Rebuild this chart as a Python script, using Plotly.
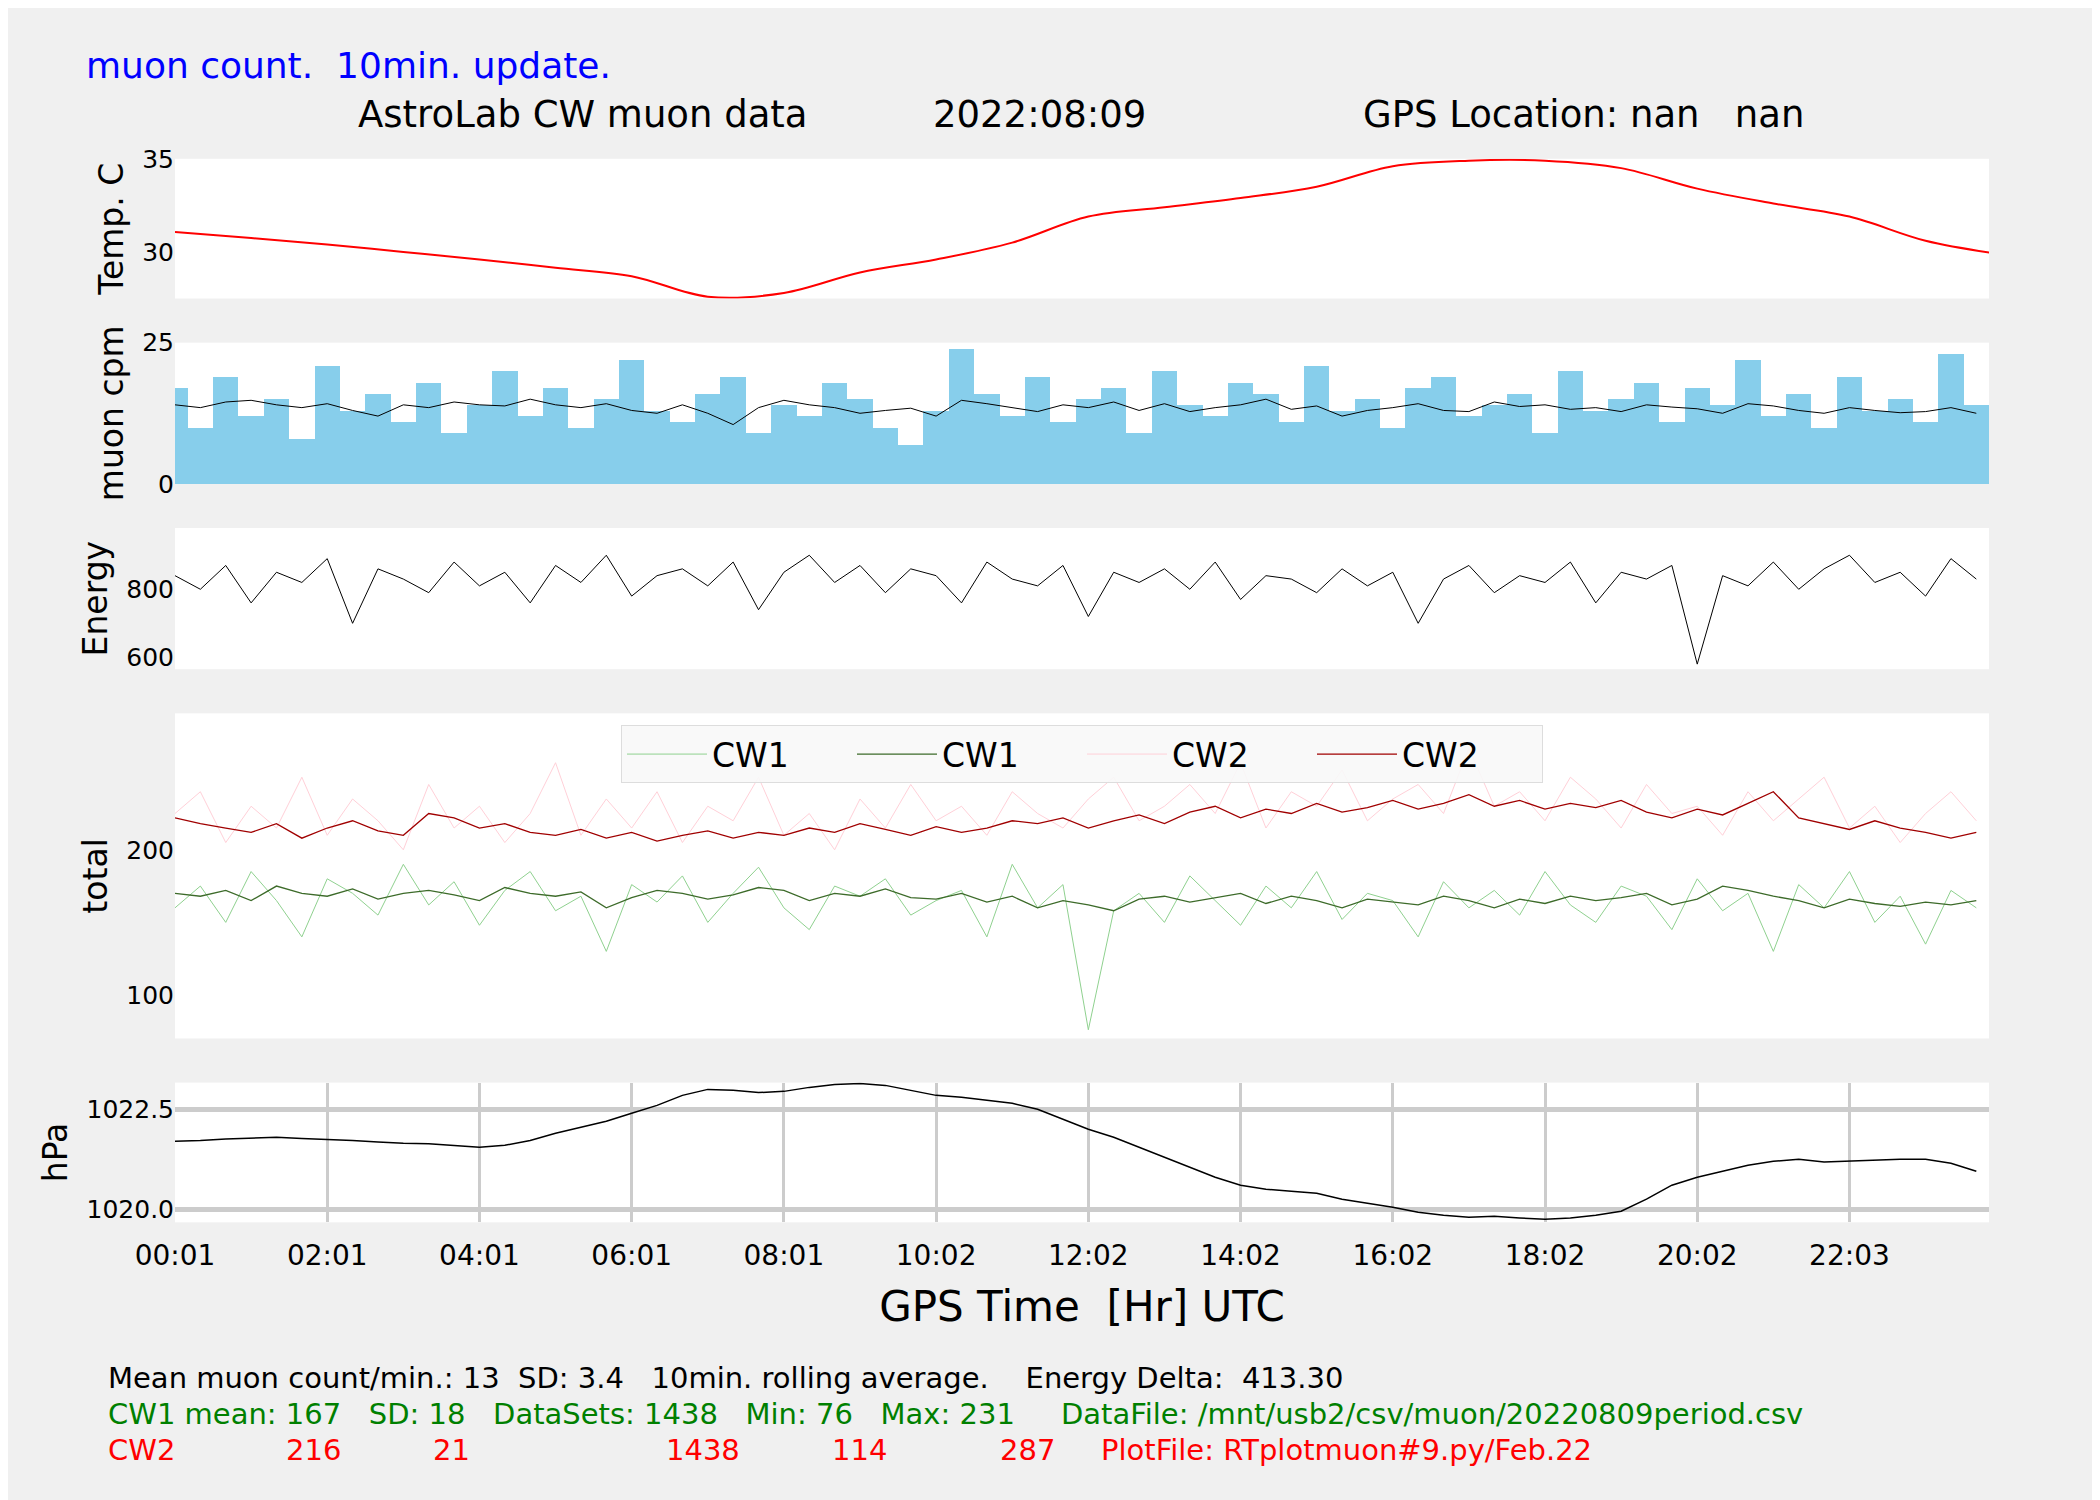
import plotly.graph_objects as go
from plotly.subplots import make_subplots

# minutes after 00:01, one sample every 20 min
t = list(range(0, 1440, 20))
temp_t = [h * 60 for h in range(24)] + [1437]

temp = [31.07, 30.75, 30.4, 30.0, 29.6, 29.15, 28.7, 27.6, 27.8, 28.9, 29.6, 30.5,
        31.9, 32.4, 32.9, 33.5, 34.6, 34.9, 34.9, 34.5, 33.4, 32.6, 31.9, 30.6, 29.9]

muon_raw = [17, 10, 19, 12, 15, 8, 21, 13, 16, 11, 18, 9, 14, 20, 12, 17, 10, 15, 22, 13,
            11, 16, 19, 9, 14, 12, 18, 15, 10, 7, 13, 24, 16, 12, 19, 11, 15, 17, 9, 20,
            14, 12, 18, 16, 11, 21, 13, 15, 10, 17, 19, 12, 14, 16, 9, 20, 13, 15, 18, 11,
            17, 14, 22, 12, 16, 10, 19, 13, 15, 11, 23, 14]
muon_avg = [14, 13.5, 14.5, 14.8, 14, 13.5, 14.2, 13, 12, 14, 13.5, 14.5, 14, 13.8, 15, 14, 13.5, 14.2, 13, 12.5,
            14, 12.5, 10.5, 13.5, 14.8, 14, 13.5, 12.5, 13, 13.4, 12, 14.8, 14.2, 13.5, 12.8, 14, 13.5, 14.5, 13, 14.2,
            12.8, 13.5, 14, 15, 13.2, 13.8, 12, 13, 13.5, 14.2, 13, 12.8, 14.5, 13.7, 14, 13.2, 13.5, 12.8, 14, 13.6,
            13.3, 12.5, 14.2, 13.8, 13, 12.5, 13.5, 13, 12.6, 12.8, 13.5, 12.5]

energy = [840, 800, 870, 760, 850, 820, 890, 700, 860, 830, 790, 880, 810, 850, 760, 870, 820, 900, 780, 840,
          860, 810, 880, 740, 850, 900, 820, 870, 790, 860, 840, 760, 880, 830, 810, 870, 720, 850, 820, 860,
          800, 880, 770, 840, 830, 790, 860, 810, 850, 700, 830, 870, 790, 840, 820, 880, 760, 850, 830, 870,
          580, 840, 810, 880, 800, 860, 900, 820, 850, 780, 890, 830]

cw1_raw = [160, 175, 150, 185, 165, 140, 180, 170, 155, 190, 162, 178, 148, 172, 185, 158, 168, 130, 176, 164,
           182, 150, 170, 188, 160, 145, 175, 168, 180, 155, 165, 172, 140, 190, 160, 176, 76, 158, 170, 150,
           182, 165, 148, 175, 160, 185, 152, 170, 165, 140, 178, 160, 172, 155, 185, 162, 150, 175, 168, 145,
           180, 158, 170, 130, 176, 160, 185, 150, 168, 135, 172, 160]
cw1_avg = [170, 168, 172, 165, 175, 170, 168, 173, 166, 170, 172, 169, 165, 174, 170, 168, 171, 160, 167, 172,
           170, 166, 169, 174, 172, 165, 170, 168, 173, 167, 166, 170, 164, 168, 160, 165, 162, 158, 166, 168,
           164, 167, 170, 163, 168, 165, 160, 166, 164, 162, 168, 165, 160, 166, 163, 168, 165, 167, 170, 162,
           166, 175, 172, 168, 165, 160, 166, 163, 161, 164, 162, 165]
cw2_raw = [225, 240, 205, 230, 215, 250, 210, 235, 220, 200, 245, 215, 230, 205, 225, 260, 210, 235, 215, 240,
           205, 230, 220, 250, 210, 225, 200, 235, 215, 245, 220, 230, 210, 240, 225, 215, 235, 250, 220, 230,
           245, 225, 260, 215, 240, 230, 255, 220, 235, 245, 225, 270, 230, 240, 220, 250, 235, 215, 245, 225,
           230, 210, 240, 220, 235, 250, 215, 230, 205, 225, 240, 220]
cw2_avg = [222, 218, 215, 212, 218, 208, 215, 220, 213, 210, 225, 222, 215, 218, 212, 210, 214, 208, 212, 206,
           210, 213, 208, 212, 210, 215, 212, 218, 214, 210, 216, 212, 215, 220, 218, 222, 215, 220, 224, 218,
           226, 230, 222, 228, 225, 232, 226, 229, 234, 228, 232, 238, 230, 234, 228, 232, 229, 234, 226, 222,
           228, 224, 232, 240, 222, 218, 214, 220, 215, 212, 208, 212]

pressure = [1021.70, 1021.72, 1021.76, 1021.78, 1021.80, 1021.77, 1021.75, 1021.72, 1021.68,
            1021.65, 1021.64, 1021.60, 1021.55, 1021.60, 1021.72, 1021.90, 1022.05, 1022.20,
            1022.40, 1022.60, 1022.85, 1023.00, 1022.98, 1022.92, 1022.95, 1023.05, 1023.12,
            1023.15, 1023.10, 1022.98, 1022.85, 1022.80, 1022.72, 1022.65, 1022.50, 1022.25,
            1022.00, 1021.80, 1021.55, 1021.30, 1021.05, 1020.80, 1020.60, 1020.50, 1020.45,
            1020.40, 1020.25, 1020.15, 1020.05, 1019.92, 1019.85, 1019.80, 1019.82, 1019.78,
            1019.75, 1019.78, 1019.85, 1019.95, 1020.25, 1020.60, 1020.80, 1020.95, 1021.10,
            1021.20, 1021.25, 1021.18, 1021.20, 1021.22, 1021.25, 1021.25, 1021.15, 1020.95]

tick_pos = [0, 120, 240, 360, 480, 600, 720, 840, 960, 1080, 1200, 1320]
tick_txt = ['00:01', '02:01', '04:01', '06:01', '08:01', '10:02', '12:02', '14:02',
            '16:02', '18:02', '20:02', '22:03']

FONT = 'DejaVu Sans'
fig = make_subplots(rows=5, cols=1, shared_xaxes=True)

fig.add_trace(go.Scatter(x=temp_t, y=temp, mode='lines', line=dict(color='red', width=2, shape='spline'),
                         showlegend=False), 1, 1)
fig.add_trace(go.Bar(x=t, y=muon_raw, marker_color='skyblue', marker_line_width=0, width=20,
                     showlegend=False), 2, 1)
fig.add_trace(go.Scatter(x=t, y=muon_avg, mode='lines', line=dict(color='black', width=1), showlegend=False), 2, 1)
fig.add_trace(go.Scatter(x=t, y=energy, mode='lines', line=dict(color='black', width=1), showlegend=False), 3, 1)
fig.add_trace(go.Scatter(x=t, y=cw1_raw, mode='lines', name='CW1', line=dict(color='#8fd18f', width=1)), 4, 1)
fig.add_trace(go.Scatter(x=t, y=cw1_avg, mode='lines', name='CW1', line=dict(color='#3d6b2a', width=1.3)), 4, 1)
fig.add_trace(go.Scatter(x=t, y=cw2_raw, mode='lines', name='CW2', line=dict(color='#ffd0d8', width=1)), 4, 1)
fig.add_trace(go.Scatter(x=t, y=cw2_avg, mode='lines', name='CW2', line=dict(color='#a00000', width=1.3)), 4, 1)
fig.add_trace(go.Scatter(x=t, y=pressure, mode='lines', line=dict(color='black', width=1.5), showlegend=False), 5, 1)

domains = [[0.812, 0.907], [0.686, 0.782], [0.560, 0.656], [0.309, 0.530], [0.184, 0.279]]
titles = ['Temp. C', 'muon cpm', 'Energy', 'total', 'hPa']
ranges = [[27.5, 35], [0, 25], [565, 980], [70, 294], [1019.67, 1023.17]]
ticks = [[30, 35], [0, 25], [600, 800], [100, 200], [1020.0, 1022.5]]
for i in range(5):
    fig.update_yaxes(row=i + 1, col=1, domain=domains[i], range=ranges[i], tickvals=ticks[i],
                     showgrid=(i == 4), gridcolor='#cccccc', gridwidth=5, zeroline=False,
                     title=dict(text=titles[i], font=dict(size=33, family=FONT), standoff=8),
                     tickfont=dict(size=25, family=FONT), ticks='')
fig.update_yaxes(row=5, col=1, tickformat='.1f')
for i in range(5):
    fig.update_xaxes(row=i + 1, col=1, range=[0, 1430], showgrid=(i == 4), gridcolor='#cccccc', gridwidth=2.5,
                     zeroline=False, tickvals=tick_pos, ticktext=tick_txt, showticklabels=(i == 4),
                     tickfont=dict(size=28, family=FONT), ticks='', ticklabelstandoff=14)
fig.update_xaxes(row=5, col=1, title=dict(text='GPS Time  [Hr] UTC', font=dict(size=42, family=FONT), standoff=20))

ann = [
    dict(x=84, y=44, text='muon count.  10min. update.', color='blue', size=36),
    dict(x=356, y=94, text='AstroLab CW muon data', color='black', size=37),
    dict(x=931, y=94, text='2022:08:09', color='black', size=37),
    dict(x=1361, y=94, text='GPS Location: nan   nan', color='black', size=37),
    dict(x=106, y=1383, text='Mean muon count/min.: 13  SD: 3.4   10min. rolling average.    Energy Delta:  413.30',
         color='black', size=29),
    dict(x=106, y=1419, text='CW1 mean: 167   SD: 18   DataSets: 1438   Min: 76   Max: 231     '
                             'DataFile: /mnt/usb2/csv/muon/20220809period.csv', color='green', size=29),
    dict(x=106, y=1456, text='CW2', color='red', size=29),
    dict(x=284, y=1456, text='216', color='red', size=29),
    dict(x=431, y=1456, text='21', color='red', size=29),
    dict(x=664, y=1456, text='1438', color='red', size=29),
    dict(x=830, y=1456, text='114', color='red', size=29),
    dict(x=998, y=1456, text='287', color='red', size=29),
    dict(x=1099, y=1456, text='PlotFile: RTplotmuon#9.py/Feb.22', color='red', size=29),
]
for a in ann:
    fig.add_annotation(xref='paper', yref='paper', x=(a['x'] - 175) / 1814,
                       y=1 - a['y'] / 1500, xanchor='left', yanchor='middle', showarrow=False,
                       text=a['text'], font=dict(color=a['color'], size=a['size'], family=FONT))

fig.update_layout(width=2100, height=1500, margin=dict(l=167, r=119, t=0, b=0),
                  paper_bgcolor='#f0f0f0', plot_bgcolor='white', bargap=0,
                  font=dict(family=FONT, color='black'),
                  legend=dict(orientation='h', x=0.5, xanchor='center', y=0.522, yanchor='top',
                              bgcolor='rgba(248,248,248,0.9)', bordercolor='#dddddd', borderwidth=1,
                              font=dict(size=33, family=FONT), itemwidth=80, entrywidth=135))
fig.write_html('out.html')
